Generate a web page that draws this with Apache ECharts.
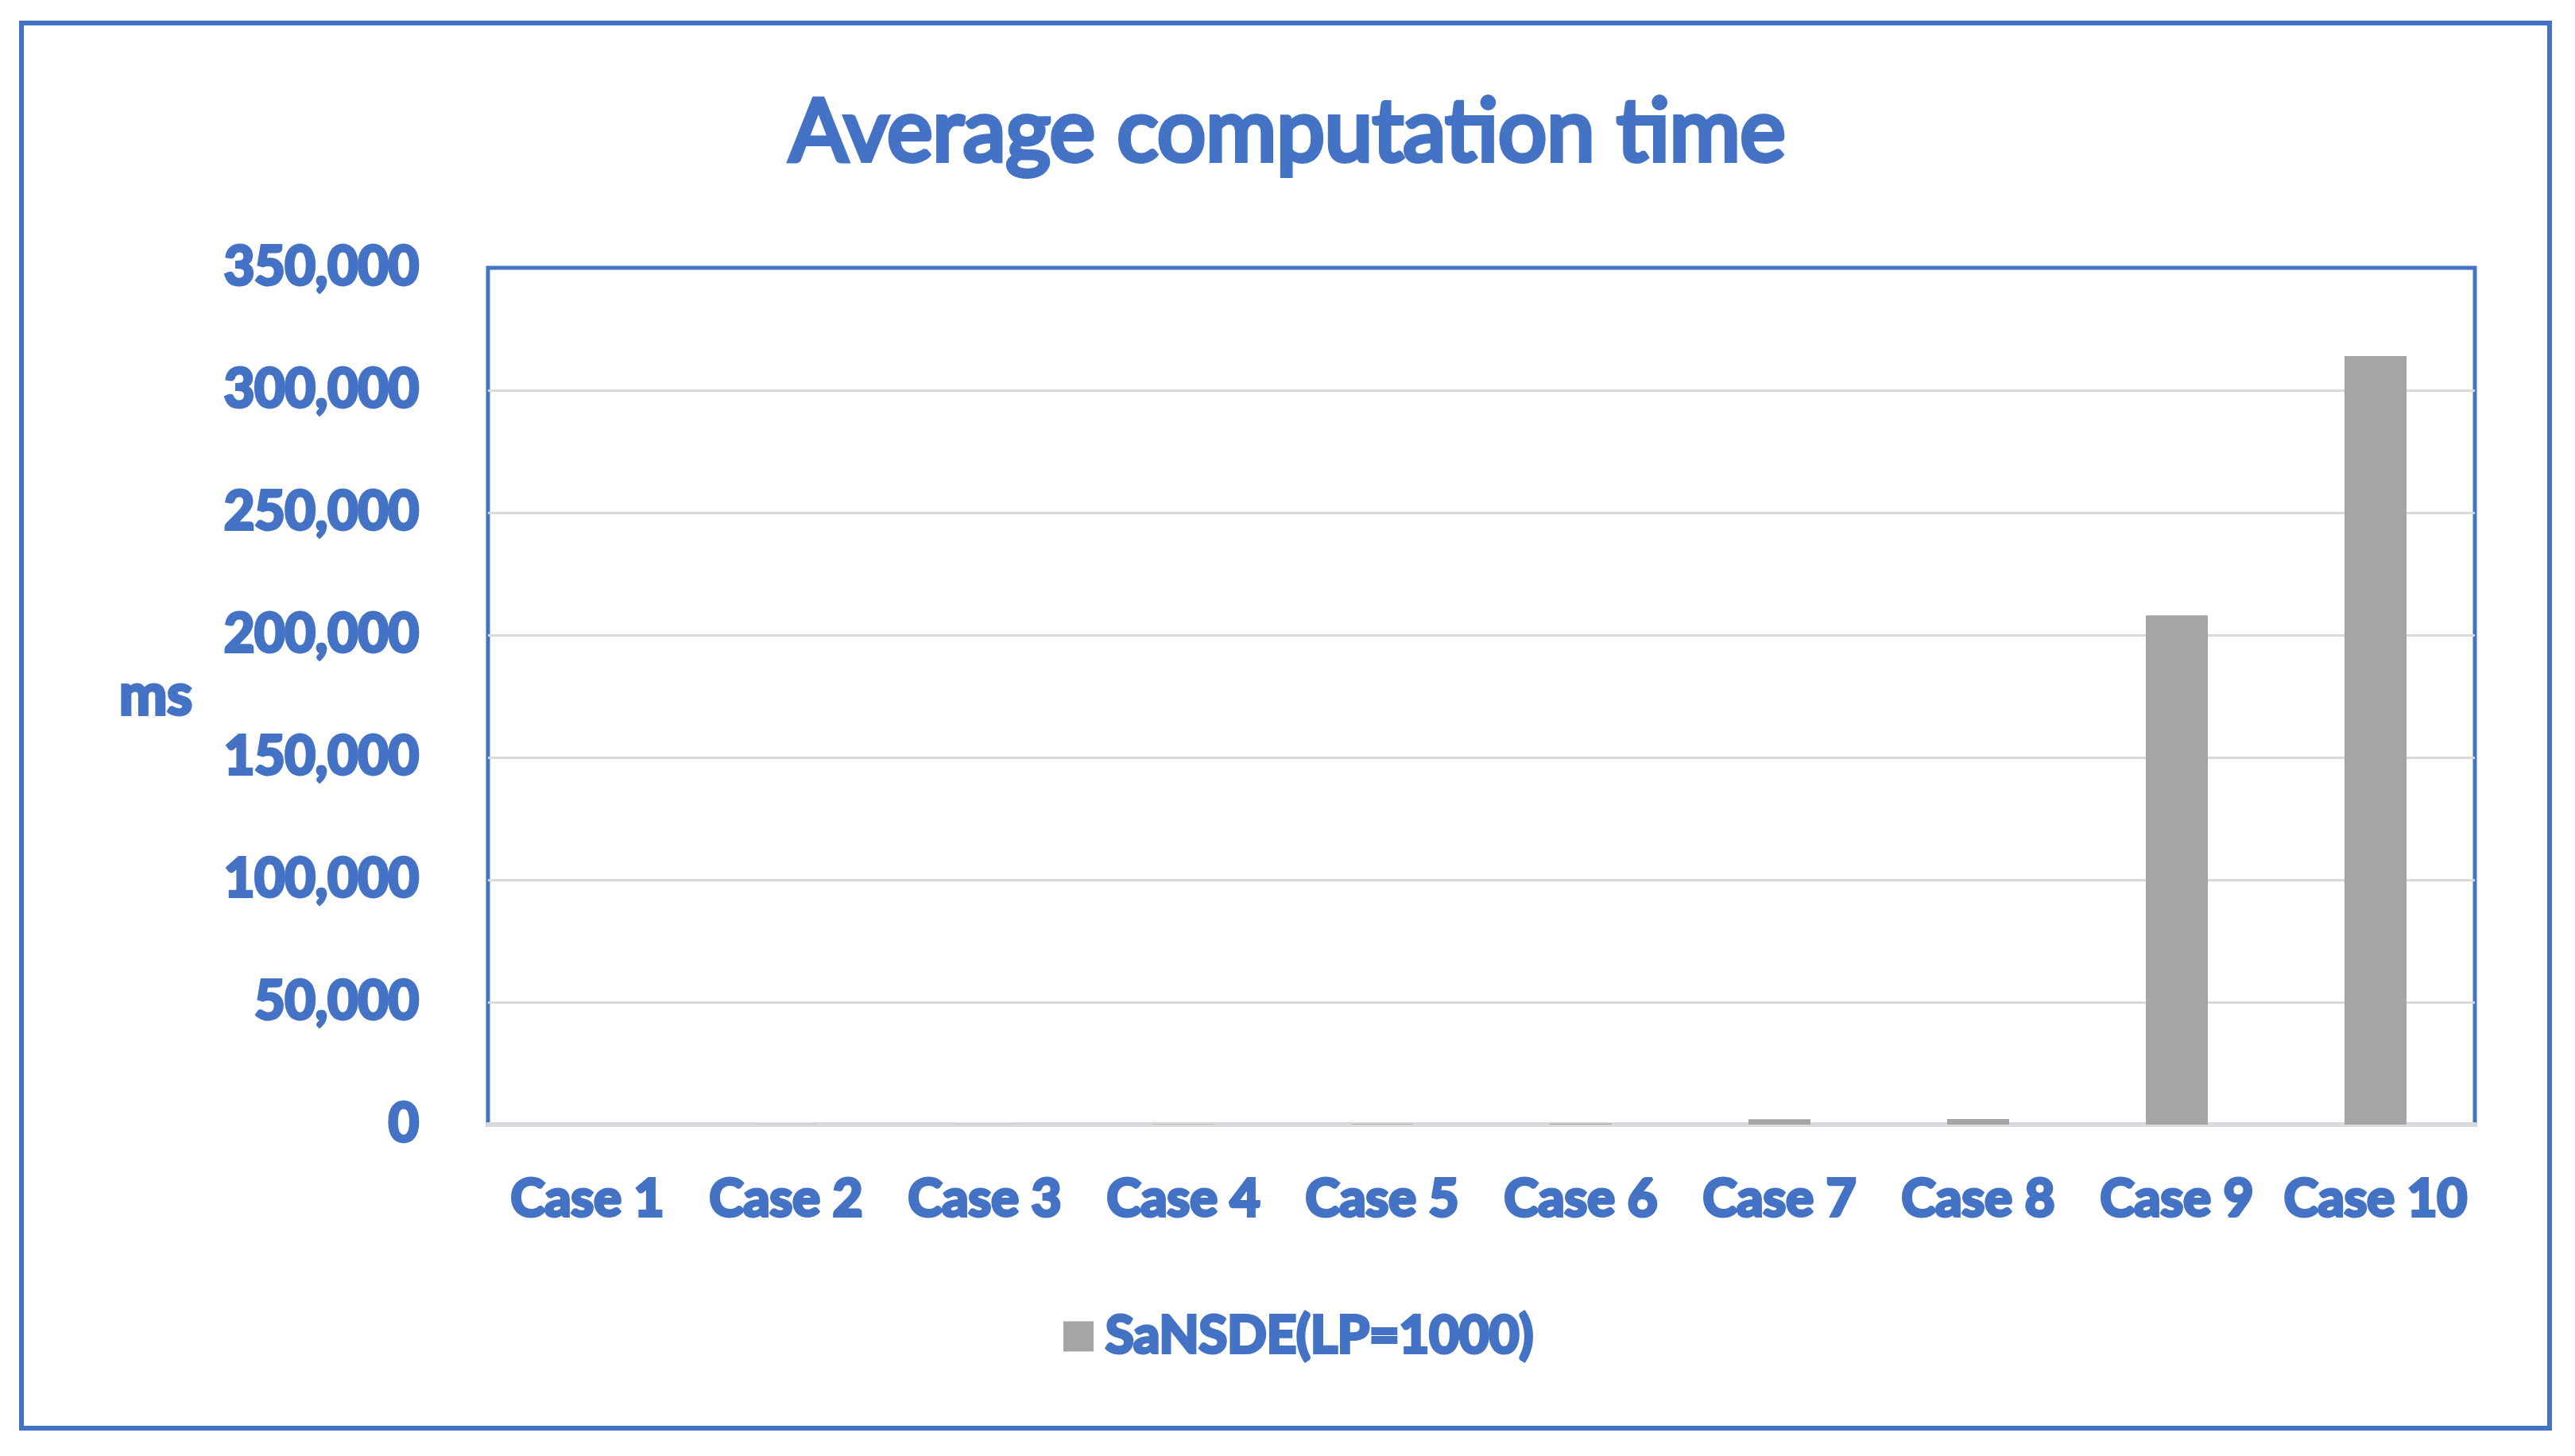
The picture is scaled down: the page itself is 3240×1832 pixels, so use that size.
<!DOCTYPE html>
<html>
<head>
    <meta charset="utf-8">
    <title>Average computation time</title>
    <style>
        html, body { margin: 0; padding: 0; background: #fff; }
        #chartBox { width: 3240px; height: 1832px; }
    </style>
</head>
<body>
    <div id="chartBox"></div>
    <script src="https://cdn.jsdelivr.net/npm/echarts@6/dist/echarts.min.js"></script>
    <script>
        // data
        var categories = ['Case 1', 'Case 2', 'Case 3', 'Case 4', 'Case 5', 'Case 6', 'Case 7', 'Case 8', 'Case 9', 'Case 10'];
        var sansdeValues = [40, 60, 90, 150, 250, 400, 2200, 2300, 208000, 314000];
        var yTicks = { min: 0, max: 350000, interval: 50000 };
        var seriesName = 'SaNSDE(LP=1000)';

        var blue = '#4472C4';
        var fontName = 'Lato';
        // blue text with a blue outline, like the office chart
        var txt = function(size, weight, border) {
            return {
                color: blue,
                fontFamily: fontName,
                fontSize: size,
                fontWeight: weight || 'bold',
                textBorderColor: blue,
                textBorderWidth: border || 4
            };
        };

        var chart = echarts.init(document.getElementById('chartBox'));

        var option = {
            animation: false,
            title: {
                text: 'Average computation time',
                left: 'center',
                top: 108,
                textStyle: txt(108, 'normal', 6)
            },
            grid: {
                left: 614,
                right: 126,
                top: 337,
                bottom: 417,
                show: true,
                borderColor: blue,
                borderWidth: 5,
                containLabel: false
            },
            legend: {
                left: 1333,
                top: 1642,
                icon: 'rect',
                itemWidth: 38,
                itemHeight: 38,
                data: [seriesName],
                textStyle: Object.assign(txt(65), { padding: [0, 0, 0, 10] })
            },
            xAxis: {
                type: 'category',
                data: categories,
                axisTick: { show: false },
                axisLine: { lineStyle: { color: '#d6d9de', width: 6 } },
                axisLabel: Object.assign(txt(65), { margin: 62, interval: 0 })
            },
            yAxis: {
                type: 'value',
                min: yTicks.min,
                max: yTicks.max,
                interval: yTicks.interval,
                name: 'ms',
                nameLocation: 'middle',
                nameRotate: 0,
                nameGap: 372,
                nameTextStyle: txt(72),
                axisLine: { show: false },
                axisTick: { show: false },
                splitLine: { showMaxLine: false, lineStyle: { color: '#d9d9d9', width: 3 } },
                axisLabel: Object.assign(txt(66), {
                    margin: 87,
                    formatter: function(v) { return v.toLocaleString('en-US'); }
                })
            },
            graphic: [{
                type: 'rect',
                shape: { x: 27, y: 29, width: 3181, height: 1768 },
                style: { fill: 'none', stroke: blue, lineWidth: 6 },
                z: -1
            }],
            series: [{
                name: seriesName,
                type: 'bar',
                barWidth: 78,
                itemStyle: { color: '#a5a5a5' },
                data: sansdeValues
            }]
        };

        chart.setOption(option);
    </script>
</body>
</html>
